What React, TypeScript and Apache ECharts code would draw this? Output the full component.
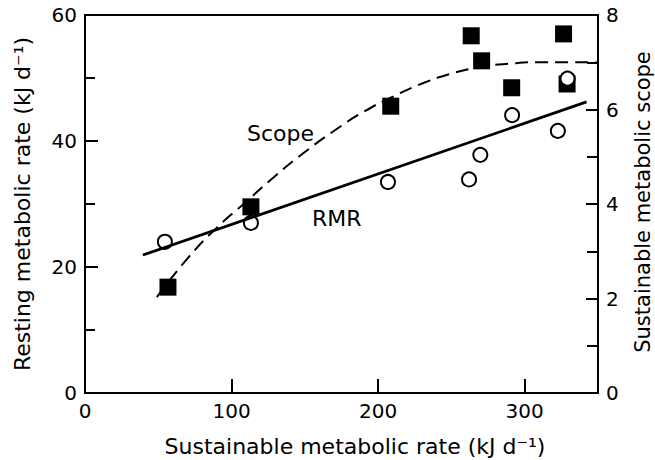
import React, { useEffect, useRef } from "react";
import * as echarts from "echarts";

// Resting metabolic rate points (open circles, left axis)
const rmrX = [54.5, 113.2, 206.7, 262.0, 269.7, 291.4, 322.6, 329.2];
const rmrY = [24.0, 27.0, 33.5, 33.9, 37.8, 44.1, 41.6, 49.9];
// Sustainable metabolic scope points (filled squares, right axis)
const scopeX = [56.6, 113.2, 208.6, 263.5, 270.6, 291.1, 326.5, 328.9];
const scopeY = [2.24, 3.94, 6.07, 7.56, 7.03, 6.46, 7.6, 6.54];
// Fitted RMR line (solid)
const rmrFitX = [39.5, 342.2];
const rmrFitY = [21.9, 46.2];
// Fitted scope curve (dashed)
const scopeFitX = [49, 70, 90, 110, 130, 150, 170, 190, 210, 230, 250, 270, 290, 310, 330, 349];
const scopeFitY = [2.03, 2.85, 3.5, 4.05, 4.6, 5.1, 5.55, 5.95, 6.27, 6.55, 6.76, 6.9, 6.97, 7.0, 7.0, 7.0];

const xTicks = { min: 0, max: 350, interval: 100 };
const leftTicks = { min: 0, max: 60, interval: 20 };
const rightTicks = { min: 0, max: 8, interval: 2 };

const FONT = "DejaVu Sans";

const zip = (a: number[], b: number[]) => a.map((v, i) => [v, b[i]]);

export default function App() {
  const ref = useRef<HTMLDivElement>(null);
  useEffect(() => {
    if (!ref.current) return;
    const chart = echarts.init(ref.current, null, { renderer: "svg" });
    const axisLine = { show: true, lineStyle: { color: "#000", width: 2 } };
    const label = { color: "#000", fontFamily: FONT, fontSize: 20 };
    chart.setOption({
      animation: false,
      grid: {
        left: 85,
        right: 57,
        top: 15,
        bottom: 67,
        show: true,
        borderColor: "#000",
        borderWidth: 2,
      },
      xAxis: {
        type: "value",
        ...xTicks,
        axisLine,
        axisTick: { show: true, inside: true, length: 14, lineStyle: { color: "#000", width: 2 } },
        axisLabel: { ...label, margin: 8, showMaxLabel: false },
        splitLine: { show: false },
      },
      yAxis: [
        {
          type: "value",
          position: "left",
          ...leftTicks,
          axisLine,
          axisTick: { show: true, inside: true, length: 13, lineStyle: { color: "#000", width: 2 } },
          minorTick: { show: true, splitNumber: 2, length: 10, lineStyle: { color: "#000", width: 2 } },
          axisLabel: { ...label, margin: 8 },
          splitLine: { show: false },
          minorSplitLine: { show: false },
        },
        {
          type: "value",
          position: "right",
          ...rightTicks,
          axisLine,
          axisTick: { show: true, inside: true, length: 12, lineStyle: { color: "#000", width: 2 } },
          minorTick: { show: true, splitNumber: 2, length: 11, lineStyle: { color: "#000", width: 2 } },
          axisLabel: { ...label, margin: 8 },
          splitLine: { show: false },
          minorSplitLine: { show: false },
        },
      ],
      series: [
        {
          type: "line",
          yAxisIndex: 1,
          data: zip(scopeFitX, scopeFitY),
          smooth: true,
          showSymbol: false,
          lineStyle: { color: "#000", width: 2, type: [13, 7] },
          silent: true,
        },
        {
          type: "line",
          yAxisIndex: 0,
          data: zip(rmrFitX, rmrFitY),
          showSymbol: false,
          lineStyle: { color: "#000", width: 2.8 },
          silent: true,
        },
        {
          type: "scatter",
          yAxisIndex: 1,
          data: zip(scopeX, scopeY),
          symbol: "rect",
          symbolSize: 17,
          itemStyle: { color: "#000", opacity: 1 },
          silent: true,
        },
        {
          type: "scatter",
          yAxisIndex: 0,
          data: zip(rmrX, rmrY),
          symbol: "circle",
          symbolSize: 14,
          itemStyle: { color: "#fff", borderColor: "#000", borderWidth: 2, opacity: 1 },
          silent: true,
        },
      ],
      graphic: [
        {
          type: "text",
          x: 247,
          y: 133,
          style: { text: "Scope", fontFamily: FONT, fontSize: 22, fill: "#000", align: "left", verticalAlign: "middle" },
        },
        {
          type: "text",
          x: 312,
          y: 218,
          style: { text: "RMR", fontFamily: FONT, fontSize: 22, fill: "#000", align: "left", verticalAlign: "middle" },
        },
        {
          type: "text",
          x: 355,
          y: 446,
          style: {
            text: "Sustainable metabolic rate (kJ d⁻¹)",
            fontFamily: FONT,
            fontSize: 22,
            fill: "#000",
            align: "center",
            verticalAlign: "middle",
          },
        },
        {
          type: "text",
          x: 22.5,
          y: 204,
          rotation: Math.PI / 2,
          style: {
            text: "Resting metabolic rate (kJ d⁻¹)",
            fontFamily: FONT,
            fontSize: 22,
            fill: "#000",
            align: "center",
            verticalAlign: "middle",
          },
        },
        {
          type: "text",
          x: 643,
          y: 202,
          rotation: Math.PI / 2,
          style: {
            text: "Sustainable metabolic scope",
            fontFamily: FONT,
            fontSize: 21,
            fill: "#000",
            align: "center",
            verticalAlign: "middle",
          },
        },
      ],
    });
    return () => chart.dispose();
  }, []);
  return (
    <div
      ref={ref}
      style={{ position: "fixed", left: 0, top: 0, width: 655, height: 460, background: "#fff" }}
    />
  );
}
